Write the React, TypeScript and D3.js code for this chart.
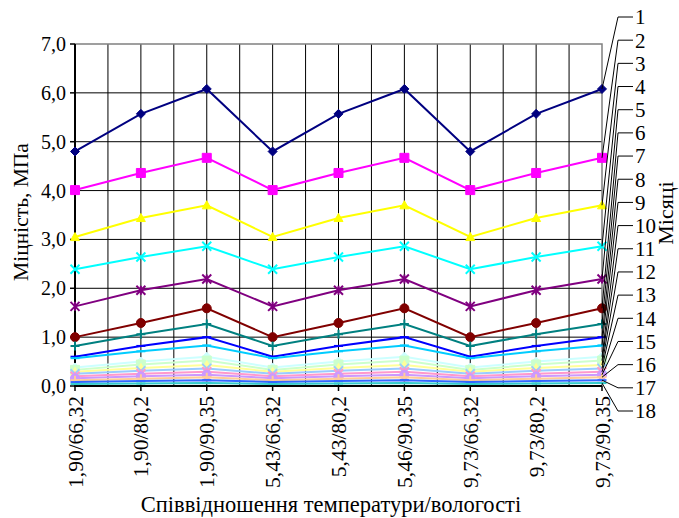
import * as d3 from 'd3';

const categories = ['1,90/66,32', '1,90/80,2', '1,90/90,35', '5,43/66,32', '5,43/80,2', '5,46/90,35', '9,73/66,32', '9,73/80,2', '9,73/90,35'];
const months = ['1', '2', '3', '4', '5', '6', '7', '8', '9', '10', '11', '12', '13', '14', '15', '16', '17', '18'];

// each month repeats the same three values for the three temperature groups
const m1 = [4.8, 5.57, 6.08, 4.8, 5.57, 6.08, 4.8, 5.57, 6.08];
const m2 = [4.01, 4.36, 4.67, 4.01, 4.36, 4.67, 4.01, 4.36, 4.67];
const m3 = [3.05, 3.44, 3.7, 3.05, 3.44, 3.7, 3.05, 3.44, 3.7];
const m4 = [2.39, 2.64, 2.86, 2.39, 2.64, 2.86, 2.39, 2.64, 2.86];
const m5 = [1.63, 1.96, 2.19, 1.63, 1.96, 2.19, 1.63, 1.96, 2.19];
const m6 = [1.0, 1.29, 1.59, 1.0, 1.29, 1.59, 1.0, 1.29, 1.59];
const m7 = [0.82, 1.06, 1.27, 0.82, 1.06, 1.27, 0.82, 1.06, 1.27];
const m8 = [0.6, 0.82, 1.0, 0.6, 0.82, 1.0, 0.6, 0.82, 1.0];
const m9 = [0.57, 0.71, 0.83, 0.57, 0.71, 0.83, 0.57, 0.71, 0.83];
const m10 = [0.38, 0.5, 0.6, 0.38, 0.5, 0.6, 0.38, 0.5, 0.6];
const m11 = [0.33, 0.44, 0.52, 0.33, 0.44, 0.52, 0.33, 0.44, 0.52];
const m12 = [0.29, 0.37, 0.43, 0.29, 0.37, 0.43, 0.29, 0.37, 0.43];
const m13 = [0.25, 0.31, 0.36, 0.25, 0.31, 0.36, 0.25, 0.31, 0.36];
const m14 = [0.2, 0.25, 0.29, 0.2, 0.25, 0.29, 0.2, 0.25, 0.29];
const m15 = [0.16, 0.2, 0.23, 0.16, 0.2, 0.23, 0.16, 0.2, 0.23];
const m16 = [0.12, 0.15, 0.18, 0.12, 0.15, 0.18, 0.12, 0.15, 0.18];
const m17 = [0.08, 0.1, 0.12, 0.08, 0.1, 0.12, 0.08, 0.1, 0.12];
const m18 = [0.04, 0.05, 0.06, 0.04, 0.05, 0.06, 0.04, 0.05, 0.06];
const series = [m1, m2, m3, m4, m5, m6, m7, m8, m9, m10, m11, m12, m13, m14, m15, m16, m17, m18];

const COLORS = ['#000080', '#ff00ff', '#ffff00', '#00ffff', '#800080', '#800000', '#008080', '#0000ff', '#00ccff',
  '#ccffff', '#ccffcc', '#ffff99', '#99ccff', '#ff99cc', '#cc99ff', '#ffcc99', '#3366ff', '#33cccc'];
const MARKERS = ['diamond', 'square', 'triangle', 'x', 'star', 'circle', 'plus', 'dash', 'dash'];

const W = 679, H = 518;
const left = 75, right = 602, top = 44, bottom = 386;
const TXT = { fontFamily: '"Liberation Serif", Tinos, serif' };

function markerPath(type: string, r: number) {
  switch (type) {
    case 'diamond': return `M0,${-r}L${r},0L0,${r}L${-r},0Z`;
    case 'square': return `M${-r},${-r}H${r}V${r}H${-r}Z`;
    case 'triangle': return `M0,${-r}L${r},${r * 0.8}L${-r},${r * 0.8}Z`;
    case 'circle': return d3.symbol(d3.symbolCircle, Math.PI * r * r)()!;
    case 'x': return `M${-r},${-r}L${r},${r}M${r},${-r}L${-r},${r}`;
    case 'star': return `M${-r},${-r}L${r},${r}M${r},${-r}L${-r},${r}M0,${-r}V${r}`;
    case 'plus': return `M${-r},0H${r}M0,${-r}V${r}`;
    default: return `M${-r},0H${r}`;
  }
}

export default function App() {
  const x = d3.scalePoint<string>().domain(categories).range([left, right]);
  const y = d3.scaleLinear().domain([0, 7]).range([bottom, top]);
  const fmt = d3.formatLocale({ decimal: ',', thousands: ' ', grouping: [3], currency: ['', ''] }).format('.1f');
  const line = d3.line<number>().x((_, i) => x(categories[i])!).y((d) => y(d));

  const step = x.step();
  const vGrid = d3.range(1, categories.length * 2 - 2).map((k) => left + (k * step) / 2);
  const yTicks = d3.range(0, 8);
  const labelY = d3.scaleLinear().domain([0, months.length - 1]).range([17, 411]);
  const lastX = x(categories[categories.length - 1])!;

  return (
    <svg width={W} height={H} style={{ position: 'absolute', left: 0, top: 0, background: '#fff' }}>
      {vGrid.map((v) => (
        <line key={'v' + v} x1={v} x2={v} y1={top} y2={bottom} stroke="#000" strokeWidth={1} />
      ))}
      {d3.range(1, 7).map((t) => (
        <line key={'h' + t} x1={left} x2={right} y1={y(t)} y2={y(t)} stroke="#000" strokeWidth={1} />
      ))}
      <path d={`M${left},${top}H${right}V${bottom}`} fill="none" stroke="#808080" strokeWidth={1.5} />
      <line x1={left} x2={left} y1={top} y2={bottom + 1} stroke="#000" strokeWidth={2} />
      <line x1={left - 1} x2={right} y1={bottom} y2={bottom} stroke="#000" strokeWidth={2} />

      {yTicks.map((t) => (
        <g key={'yt' + t}>
          <line x1={left - 5} x2={left} y1={y(t)} y2={y(t)} stroke="#000" strokeWidth={1.5} />
          <text x={left - 9} y={y(t)} dy="0.35em" textAnchor="end" fontSize={20} style={TXT}>{fmt(t)}</text>
        </g>
      ))}
      {categories.map((c) => (
        <g key={'xt' + c}>
          <line x1={x(c)} x2={x(c)} y1={bottom} y2={bottom + 5} stroke="#000" strokeWidth={1.5} />
          <text transform={`translate(${x(c)},${bottom + 10}) rotate(-90)`} dy="0.35em" textAnchor="end"
            fontSize={21.5} style={TXT}>{c}</text>
        </g>
      ))}

      {series.map((vals, si) => {
        const color = COLORS[si];
        const type = MARKERS[si % MARKERS.length];
        const filled = ['diamond', 'square', 'triangle', 'circle'].includes(type);
        return (
          <g key={'s' + si}>
            <path d={line(vals)!} fill="none" stroke={color} strokeWidth={2} />
            {vals.map((v, i) => (
              <path key={i} transform={`translate(${x(categories[i])},${y(v)})`} d={markerPath(type, 4.5)}
                fill={filled ? color : 'none'} stroke={color} strokeWidth={filled ? 1 : 2} />
            ))}
          </g>
        );
      })}

      {months.map((m, i) => {
        const py = y(series[i][series[i].length - 1]);
        const ly = labelY(i);
        return (
          <g key={'lg' + m}>
            <path d={`M${lastX},${py}L618,${ly}H633`} fill="none" stroke="#000" strokeWidth={1} />
            <text x={635} y={ly} dy="0.35em" fontSize={21} style={TXT}>{m}</text>
          </g>
        );
      })}

      <text transform="translate(20,212) rotate(-90)" textAnchor="middle" dy="0.35em" fontSize={21.5} style={TXT}>Міцність, МПа</text>
      <text transform="translate(665,213) rotate(-90)" textAnchor="middle" dy="0.35em" fontSize={22} style={TXT}>Місяці</text>
      <text x={331} y={504} dy="0.35em" textAnchor="middle" fontSize={22.5} style={TXT}>Співвідношення температури/вологості</text>
    </svg>
  );
}
